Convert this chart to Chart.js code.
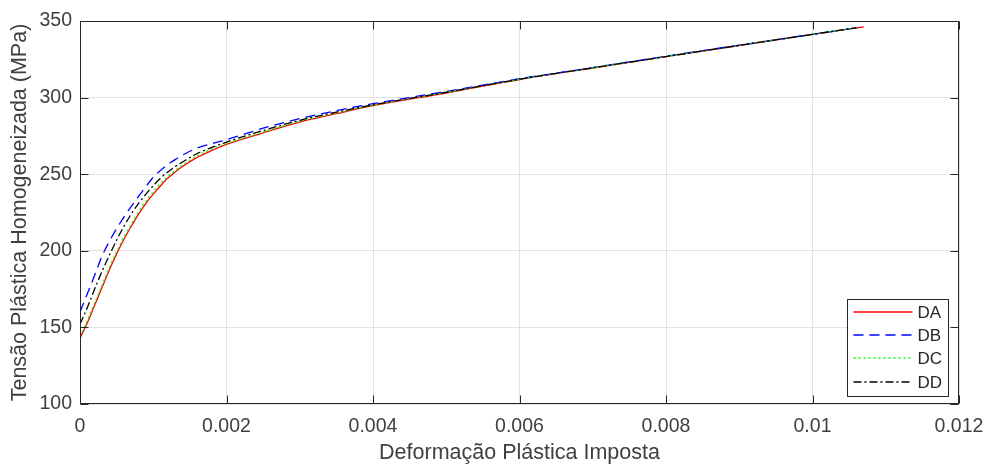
<!DOCTYPE html>
<html>
<head>
<meta charset="utf-8">
<script src="https://cdn.jsdelivr.net/npm/chart.js@4"></script>
<style>
  html, body { margin: 0; padding: 0; background: #fff; }
</style>
</head>
<body>
<canvas id="myChart" width="987" height="466"></canvas>
<script>
// imposed plastic strain (shared sampling) and end points of each curve
const strain = [0, 0.0001, 0.0002, 0.0003, 0.0004, 0.0005, 0.0006, 0.0007, 0.0008, 0.0009,
  0.001, 0.0011, 0.0012, 0.0013, 0.0014, 0.0016, 0.0018, 0.002, 0.0025, 0.003,
  0.0035, 0.004, 0.005, 0.006, 0.007, 0.008, 0.009, 0.01];
const endStrain = [0.0107, 0.0106, 0.0106, 0.0106];

// homogenized plastic stress (MPa)
const stressDA = [143, 153, 164.5, 176, 187.5, 198, 207.5, 216, 224, 231,
  237, 242.5, 247.5, 251.5, 255, 261, 265.5, 269.5, 277, 284,
  289.5, 294.7, 303, 311.8, 319.3, 326.7, 334, 341.2, 346.2];
const stressDB = [160, 172, 184, 196.5, 206, 214.5, 222, 229, 235.5, 242,
  248, 252.5, 256.5, 259.5, 262.5, 267, 270, 272.5, 280, 286.3,
  291.5, 296, 304, 312.3, 319.6, 327, 334.2, 341.3, 345.6];
const stressDC = [144, 154.5, 166, 177.5, 189, 199.5, 209, 217.5, 225.5, 232.5,
  238.5, 244, 248.5, 252.5, 256, 262, 266.5, 270, 277.5, 284.5,
  290, 295, 303.3, 311.9, 319.4, 326.7, 334, 341.2, 345.6];
const stressDD = [152, 163, 175, 186.5, 197, 207, 216, 224, 231, 237,
  242.5, 247.5, 251.5, 255, 258, 263.5, 267.5, 271, 278.5, 285.2,
  290.5, 295.3, 303.5, 312, 319.5, 326.8, 334.1, 341.3, 345.6];

const seriesNames = ["DA", "DB", "DC", "DD"];
const seriesValues = [stressDA, stressDB, stressDC, stressDD];
const seriesColors = ["#ff0000", "#0000ff", "#00ff00", "#000000"];
const seriesDash = [[], [10, 6], [2, 3], [8, 3, 2, 3]];

const xTicks = [0, 0.002, 0.004, 0.006, 0.008, 0.01, 0.012];
const yTicks = [100, 150, 200, 250, 300, 350];

const FONT = "'Liberation Sans', Arial, sans-serif";
const INK = "#262626";

function toPoints(values, idx) {
  const xs = strain.concat([endStrain[idx]]);
  return values.map((v, i) => ({ x: xs[i], y: v }));
}

// box around the axes, inward ticks on all four sides, and the legend
const axesBox = {
  id: "axesBox",
  afterDatasetsDraw(chart) {
    const { ctx, chartArea: a, scales } = chart;
    const L = Math.round(a.left) + 0.5, R = Math.round(a.right) - 0.5;
    const T = Math.round(a.top) + 0.5, B = Math.round(a.bottom) - 0.5;
    ctx.save();
    ctx.strokeStyle = INK;
    ctx.lineWidth = 1;
    ctx.strokeRect(L, T, R - L, B - T);

    const tl = 8;
    ctx.beginPath();
    xTicks.forEach((v) => {
      const px = Math.round(scales.x.getPixelForValue(v)) + 0.5;
      ctx.moveTo(px, B); ctx.lineTo(px, B - tl);
      ctx.moveTo(px, T); ctx.lineTo(px, T + tl);
    });
    yTicks.forEach((v) => {
      const py = Math.round(scales.y.getPixelForValue(v)) + 0.5;
      ctx.moveTo(L, py); ctx.lineTo(L + tl, py);
      ctx.moveTo(R, py); ctx.lineTo(R - tl, py);
    });
    ctx.stroke();

    // legend, lower right corner
    const w = 101, h = 97;
    const lx = Math.round(R - 11 - w) + 0.5;
    const ly = Math.round(B - 8 - h) + 0.5;
    ctx.fillStyle = "#fff";
    ctx.fillRect(lx, ly, w, h);
    ctx.strokeStyle = INK;
    ctx.setLineDash([]);
    ctx.strokeRect(lx, ly, w, h);
    ctx.font = "17px " + FONT;
    ctx.textBaseline = "middle";
    ctx.textAlign = "left";
    seriesNames.forEach((name, i) => {
      const y = Math.round(ly + 12 + i * 23.4);
      ctx.strokeStyle = seriesColors[i];
      ctx.lineWidth = 1.3;
      ctx.setLineDash(seriesDash[i]);
      ctx.beginPath();
      ctx.moveTo(lx + 6, y);
      ctx.lineTo(lx + 65, y);
      ctx.stroke();
      ctx.fillStyle = INK;
      ctx.fillText(name, lx + 70, y + 1);
    });
    ctx.restore();
  },
};

const config = {
  type: "line",
  data: {
    datasets: seriesNames.map((name, i) => ({
      label: name,
      data: toPoints(seriesValues[i], i),
      borderColor: seriesColors[i],
      borderDash: seriesDash[i],
      borderWidth: 1.3,
      pointRadius: 0,
      fill: false,
      cubicInterpolationMode: "monotone",
      order: seriesNames.length - i,
    })),
  },
  options: {
    responsive: false,
    animation: false,
    layout: { padding: { left: 7, right: 28, top: 21, bottom: 0 } },
    plugins: {
      legend: { display: false },
      tooltip: { enabled: false },
    },
    scales: {
      x: {
        type: "linear",
        min: 0,
        max: 0.012,
        afterFit: (scale) => {
          scale.height = 62;
          scale.paddingLeft = 0;
          scale.paddingRight = 0;
        },
        afterBuildTicks: (scale) => { scale.ticks = xTicks.map((v) => ({ value: v })); },
        grid: { color: "#e2e2e2", drawTicks: false },
        border: { display: false },
        ticks: {
          padding: 11,
          color: "#404040",
          font: { family: FONT, size: 19.5 },
          maxRotation: 0,
          callback: (v) => parseFloat(v.toFixed(4)).toString(),
        },
        title: {
          display: true,
          text: "Deformação Plástica Imposta",
          color: "#404040",
          font: { family: FONT, size: 21.5 },
          padding: 0,
        },
      },
      y: {
        type: "linear",
        min: 100,
        max: 350,
        afterFit: (scale) => {
          scale.width = 73;
          scale.paddingTop = 0;
          scale.paddingBottom = 0;
        },
        afterBuildTicks: (scale) => { scale.ticks = yTicks.map((v) => ({ value: v })); },
        grid: { color: "#e2e2e2", drawTicks: false },
        border: { display: false },
        ticks: {
          padding: 8,
          color: "#404040",
          font: { family: FONT, size: 19.5 },
        },
        title: {
          display: true,
          text: "Tensão Plástica Homogeneizada (MPa)",
          color: "#404040",
          font: { family: FONT, size: 21.5 },
          padding: 0,
        },
      },
    },
  },
  plugins: [axesBox],
};

const ctx = document.getElementById("myChart").getContext("2d");
new Chart(ctx, config);
</script>
</body>
</html>
